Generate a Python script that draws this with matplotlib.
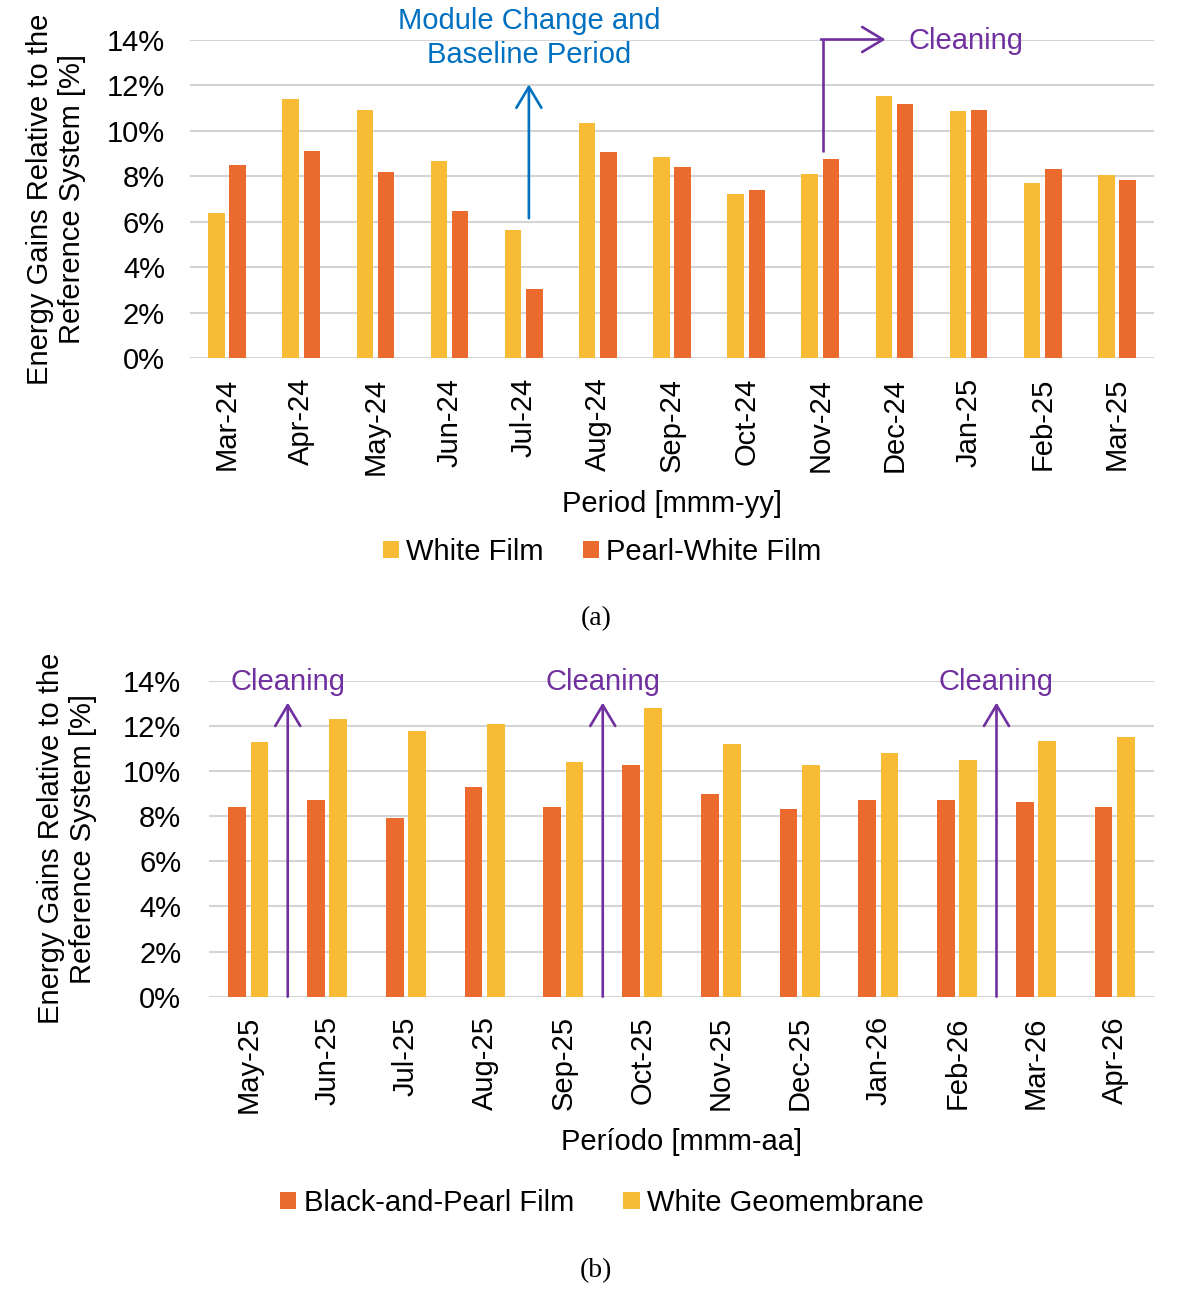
import matplotlib
matplotlib.use("Agg")
import matplotlib.pyplot as plt
import numpy as np
from matplotlib.ticker import FuncFormatter

plt.rcParams['font.family'] = ['Liberation Sans', 'DejaVu Sans']

# ---- Data (a) ----
months_a = ["Mar-24", "Apr-24", "May-24", "Jun-24", "Jul-24", "Aug-24", "Sep-24",
            "Oct-24", "Nov-24", "Dec-24", "Jan-25", "Feb-25", "Mar-25"]
white_film = [6.4, 11.4, 10.9, 8.65, 5.65, 10.35, 8.82, 7.2, 8.1, 11.5, 10.85, 7.7, 8.03]
pearl_white_film = [8.48, 9.1, 8.2, 6.45, 3.03, 9.04, 8.38, 7.41, 8.77, 11.15, 10.92, 8.3, 7.83]

# ---- Data (b) ----
months_b = ["May-25", "Jun-25", "Jul-25", "Aug-25", "Sep-25", "Oct-25", "Nov-25",
            "Dec-25", "Jan-26", "Feb-26", "Mar-26", "Apr-26"]
black_pearl_film = [8.39, 8.7, 7.9, 9.28, 8.39, 10.28, 8.99, 8.3, 8.7, 8.7, 8.61, 8.39]
white_geomembrane = [11.28, 12.29, 11.79, 12.1, 10.38, 12.79, 11.18, 10.28, 10.78, 10.49, 11.32, 11.49]

YELLOW = "#F8BB36"
ORANGE = "#EB6B2E"
PURPLE = "#7030A0"
BLUE = "#0070C0"
GRID = "#D4D4D4"
FS = 21

W, H = 1184, 1294
fig = plt.figure(figsize=(W / 100, H / 100), dpi=100)


def px_axes(left, top, right, bottom):
    return fig.add_axes([left / W, 1 - bottom / H, (right - left) / W, (bottom - top) / H])


def style(ax, labels, ypad):
    ax.set_ylim(0, 14)
    ax.set_yticks(np.arange(0, 15, 2))
    ax.yaxis.set_major_formatter(FuncFormatter(lambda v, p: f"{v:.0f}%"))
    ax.set_xticks(np.arange(len(labels)))
    ax.set_xticklabels(labels, rotation=90)
    ax.set_xlim(-0.5, len(labels) - 0.5)
    ax.grid(axis='y', color=GRID, lw=1.5)
    ax.set_axisbelow(True)
    for s in ax.spines.values():
        s.set_visible(False)
    ax.tick_params(axis='both', length=0, labelsize=FS)
    ax.tick_params(axis='x', pad=14)
    ax.tick_params(axis='y', pad=ypad)


arrow_style = "->,head_length=0.75,head_width=0.45"
arrow_kw = dict(lw=1.9, mutation_scale=20, shrinkA=0, shrinkB=0)

# ---------- (a) ----------
ax1 = px_axes(190, 39.5, 1154, 358.3)
x = np.arange(len(months_a))
bw, off = 0.222, 0.143
b1 = ax1.bar(x - off, white_film, bw, color=YELLOW, label="White Film")
b2 = ax1.bar(x + off, pearl_white_film, bw, color=ORANGE, label="Pearl-White Film")
style(ax1, months_a, 18)
ax1.set_ylabel("Energy Gains Relative to the\nReference System [%]", fontsize=FS, linespacing=1.2)
ax1.yaxis.label.set_verticalalignment('center')
ax1.yaxis.set_label_coords(-0.139, 0.5)
ax1.set_xlabel("Period [mmm-yy]", fontsize=FS)
ax1.xaxis.label.set_verticalalignment('center')
ax1.xaxis.set_label_coords(0.5, -0.457)

ax1.annotate("", xy=(4.07, 12.03), xytext=(4.07, 6.15),
             arrowprops=dict(arrowstyle=arrow_style, color=BLUE, **arrow_kw), annotation_clip=False)
ax1.text(4.07, 14.07, "Module Change and\nBaseline Period", color=BLUE, fontsize=FS,
         ha='center', va='center', linespacing=1.25, clip_on=False)
ax1.plot([8.03, 8.03], [9.06, 14.0], color=PURPLE, lw=1.9, clip_on=False, solid_capstyle='butt')
ax1.annotate("", xy=(8.88, 14.0), xytext=(8.01, 14.0),
             arrowprops=dict(arrowstyle=arrow_style, color=PURPLE, **arrow_kw), annotation_clip=False)
ax1.text(9.19, 13.95, "Cleaning", color=PURPLE, fontsize=FS, ha='left', va='center', clip_on=False)

fig.legend(handles=[b1, b2], loc='center', bbox_to_anchor=(602 / W, 1 - 552 / H), ncol=2,
           frameon=False, fontsize=FS, handlelength=0.55, handleheight=0.55,
           handletextpad=0.25, columnspacing=1.35)
fig.text(596 / W, 1 - 619 / H, "(a)", fontsize=20, ha='center', va='center',
         family=['Liberation Serif', 'DejaVu Serif'])

# ---------- (b) ----------
ax2 = px_axes(209, 680.7, 1154, 996.7)
xb = np.arange(len(months_b))
bw2, off2 = 0.224, 0.142
c1 = ax2.bar(xb - off2, black_pearl_film, bw2, color=ORANGE, label="Black-and-Pearl Film")
c2 = ax2.bar(xb + off2, white_geomembrane, bw2, color=YELLOW, label="White Geomembrane")
style(ax2, months_b, 20)
ax2.set_ylabel("Energy Gains Relative to the\nReference System [%]", fontsize=FS, linespacing=1.2)
ax2.yaxis.label.set_verticalalignment('center')
ax2.yaxis.set_label_coords(-0.150, 0.5)
ax2.set_xlabel("Período [mmm-aa]", fontsize=FS)
ax2.xaxis.label.set_verticalalignment('center')
ax2.xaxis.set_label_coords(0.5, -0.46)

for xc in [0.5, 4.5, 9.5]:
    ax2.annotate("", xy=(xc, 13.03), xytext=(xc, 0),
                 arrowprops=dict(arrowstyle=arrow_style, color=PURPLE, **arrow_kw), annotation_clip=False)
    ax2.text(xc, 13.95, "Cleaning", color=PURPLE, fontsize=FS, ha='center', va='center', clip_on=False)

fig.legend(handles=[c1, c2], loc='center', bbox_to_anchor=(602 / W, 1 - 1203 / H), ncol=2,
           frameon=False, fontsize=FS, handlelength=0.55, handleheight=0.55,
           handletextpad=0.25, columnspacing=1.7)
fig.text(596 / W, 1 - 1271 / H, "(b)", fontsize=20, ha='center', va='center',
         family=['Liberation Serif', 'DejaVu Serif'])

fig.savefig("out.png", dpi=100)
